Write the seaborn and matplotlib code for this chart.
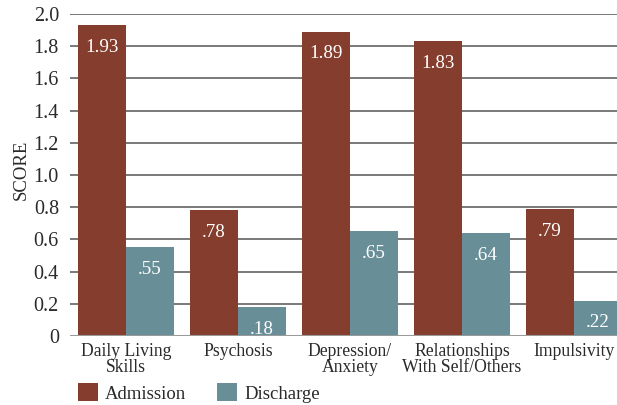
import matplotlib
matplotlib.use("Agg")
import matplotlib.pyplot as plt
import seaborn as sns
import pandas as pd
from matplotlib.patches import Patch

categories = ["Daily Living\nSkills", "Psychosis", "Depression/\nAnxiety",
              "Relationships\nWith Self/Others", "Impulsivity"]
admission = [1.93, 0.78, 1.89, 1.83, 0.79]
discharge = [0.55, 0.18, 0.65, 0.64, 0.22]
series = ["Admission", "Discharge"]
yticks = [0, 0.2, 0.4, 0.6, 0.8, 1.0, 1.2, 1.4, 1.6, 1.8, 2.0]
ytick_labels = ["0", "0.2", "0.4", "0.6", "0.8", "1.0", "1.2", "1.4", "1.6", "1.8", "2.0"]

colors = {"Admission": "#853E2D", "Discharge": "#688F98"}

df = pd.DataFrame({
    "category": categories * 2,
    "series": [series[0]] * len(categories) + [series[1]] * len(categories),
    "score": admission + discharge,
})

sns.set_theme(style="white")
plt.rcParams["font.family"] = ["Liberation Serif", "DejaVu Serif"]

fig = plt.figure(figsize=(6.17, 4.05), dpi=100)
ax = fig.add_axes([70 / 617, 69 / 405, 547 / 617, 322 / 405])

sns.barplot(data=df, x="category", y="score", hue="series", order=categories,
            hue_order=series, palette=colors, width=0.857, gap=0,
            saturation=1, linewidth=0, legend=False, ax=ax, zorder=3)

ax.set_ylim(0, 2.0)
ax.set_xlim(-0.5, 4.385)
ax.set_yticks(yticks)
ax.set_yticklabels(ytick_labels, fontsize=14.5, color="#2a2a2a")
ax.set_xticks(range(len(categories)))
ax.set_xticklabels(categories, fontsize=12.7, color="#2a2a2a", linespacing=0.9)
ax.tick_params(axis="both", length=0)
ax.tick_params(axis="y", pad=8)
ax.tick_params(axis="x", pad=5)
for s in ax.spines.values():
    s.set_visible(False)
for y in yticks[1:]:
    ax.axhline(y, color="#555555", linewidth=1.1, zorder=1)
ax.axhline(0, color="#9a9a9a", linewidth=2.2, zorder=4)

ax.set_xlabel("")
ax.set_ylabel("SCORE", fontsize=13.5, color="#2a2a2a")
ax.yaxis.set_label_coords(-0.073, 0.515)


def fmt(v):
    s = f"{v:.2f}"
    return s[1:] if s.startswith("0") else s


for cont in ax.containers:
    for bar in cont:
        h = bar.get_height()
        ax.annotate(fmt(h), (bar.get_x() + bar.get_width() / 2, h),
                    xytext=(0, -16), textcoords="offset points",
                    ha="center", va="center", color="white", fontsize=13.7,
                    zorder=5)

handles = [Patch(facecolor=colors[s], edgecolor="none", label=s) for s in series]
fig.legend(handles=handles, loc="lower left", bbox_to_anchor=(78 / 617, 0.006),
           ncol=2, frameon=False, fontsize=13.5, handlelength=1.05,
           handleheight=1.05, handletextpad=0.4, columnspacing=1.65,
           borderpad=0, borderaxespad=0, labelcolor="#2a2a2a")

fig.savefig("out.png", dpi=100)
